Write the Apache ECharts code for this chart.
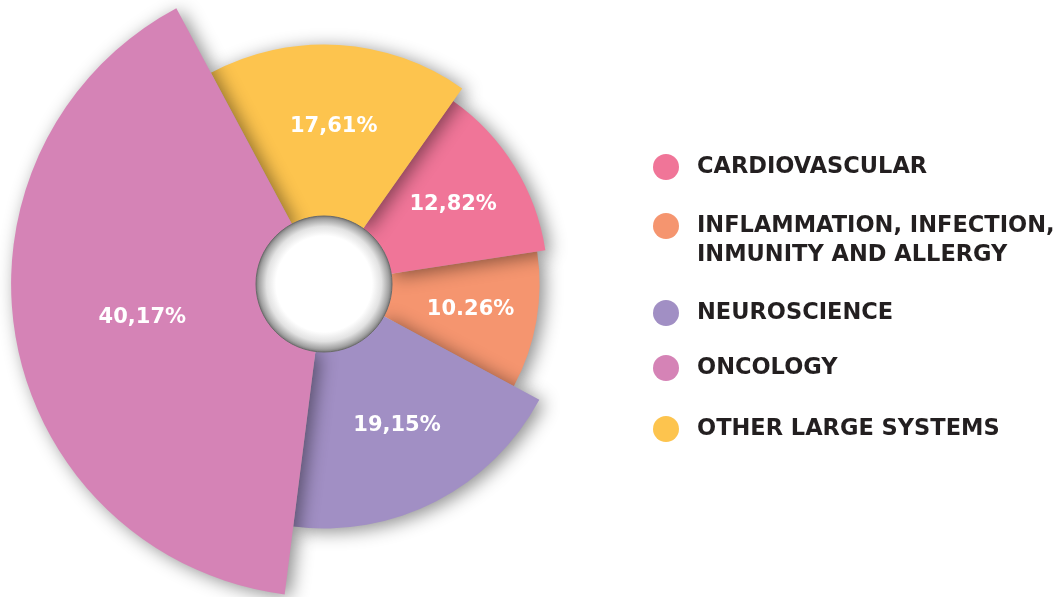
<!DOCTYPE html>
<html>
<head>
<meta charset="utf-8">
<title>Therapeutic areas</title>
<script src="https://cdn.jsdelivr.net/npm/echarts@6/dist/echarts.min.js"></script>
<style>
	html, body { margin: 0; padding: 0; background: #fff; }
	#chart { width: 1055px; height: 597px; }
</style>
</head>
<body>
<div id="chart"></div>
<script>
// 数据
var categories = [ 'CARDIOVASCULAR', 'INFLAMMATION, INFECTION, INMUNITY AND ALLERGY', 'NEUROSCIENCE', 'ONCOLOGY', 'OTHER LARGE SYSTEMS' ];
var shares = [ 12.82, 10.26, 19.15, 40.17, 17.61 ];
var shareLabels = [ '12,82%', '10.26%', '19,15%', '40,17%', '17,61%' ];

// 样式
var colors = [ '#f07598', '#f5956f', '#a18fc4', '#d583b6', '#fdc44e' ];
var drawOrder = [ 2, 1, 4, 5, 3 ]; // 阴影叠放顺序
var pieCenter = [ 324, 284 ];
var holeRadius = 68;
var fontFamily = '"DejaVu Sans", sans-serif';

// 累计角度（百分比）
var starts = [];
var acc = 0;
for ( var i = 0; i < shares.length; i++) {
	starts.push(acc);
	acc += shares[i];
}

function renderSlice(params, api) {
	var cs = params.coordSys;
	var idx = params.seriesIndex;
	var v = api.value(0), a0 = api.value(1), a1 = api.value(2);
	var p0 = api.coord([ v, a0 ]);
	var p1 = api.coord([ v, a1 ]);
	var pm = api.coord([ v, (a0 + a1) / 2 ]);
	var r = Math.sqrt(Math.pow(p0[0] - cs.cx, 2) + Math.pow(p0[1] - cs.cy, 2));
	var k = (69 + 0.37 * r) / r; // 标签离圆心的距离
	return {
		type : 'group',
		children : [ {
			type : 'sector',
			shape : {
				cx : cs.cx,
				cy : cs.cy,
				r0 : holeRadius,
				r : r,
				startAngle : Math.atan2(p0[1] - cs.cy, p0[0] - cs.cx),
				endAngle : Math.atan2(p1[1] - cs.cy, p1[0] - cs.cx),
				clockwise : true
			},
			style : {
				fill : colors[idx],
				shadowBlur : 18,
				shadowColor : 'rgba(0,0,0,0.45)',
				shadowOffsetX : 5,
				shadowOffsetY : 3
			},
			z2 : drawOrder[idx]
		}, {
			type : 'text',
			x : cs.cx + (pm[0] - cs.cx) * k,
			y : cs.cy + (pm[1] - cs.cy) * k,
			style : {
				text : shareLabels[idx],
				fill : '#ffffff',
				fontFamily : fontFamily,
				fontWeight : 'bold',
				fontSize : 21,
				align : 'center',
				verticalAlign : 'middle'
			},
			z2 : 10
		} ]
	};
}

var series = categories.map(function(name, i) {
	return {
		name : name,
		type : 'custom',
		coordinateSystem : 'polar',
		itemStyle : {
			color : colors[i]
		},
		encode : {
			radius : 0,
			angle : 1
		},
		renderItem : renderSlice,
		data : [ [ shares[i], starts[i], starts[i] + shares[i] ] ]
	};
});

// 图例每项的上下留白
var legendPaddings = [ [ 0, 0, 0, 13 ], [ 2, 0, 2, 13 ], [ 28, 0, 28, 13 ],
		[ 0, 0, 0, 13 ], [ 34, 0, 34, 13 ] ];

var chart = echarts.init(document.getElementById('chart'));
chart.setOption({
	backgroundColor : '#ffffff',
	animation : false,
	polar : {
		center : pieCenter,
		radius : [ 0, 313 ]
	},
	radiusAxis : {
		type : 'value',
		min : -56,
		max : 40.2,
		show : false
	},
	angleAxis : {
		type : 'value',
		min : 0,
		max : 100,
		startAngle : 54.8,
		clockwise : true,
		show : false
	},
	legend : {
		orient : 'vertical',
		left : 653,
		top : 153.5,
		padding : 0,
		itemGap : 0,
		itemWidth : 26,
		itemHeight : 26,
		icon : 'circle',
		selectedMode : false,
		textStyle : {
			color : '#231f20',
			fontFamily : fontFamily,
			fontWeight : 'bold',
			fontSize : 22.5,
			lineHeight : 27,
			backgroundColor : 'rgba(0,0,0,0)'
		},
		formatter : function(name) {
			// 第一行留空，让圆点对齐第一行文字
			if (name.indexOf('INFECTION, ') > -1) {
				return '\n' + name.replace('INFECTION, ', 'INFECTION,\n');
			}
			return name;
		},
		data : categories.map(function(name, i) {
			var ts = {
				padding : legendPaddings[i]
			};
			if (i === 1) {
				ts.lineHeight = 29;
			}
			return {
				name : name,
				textStyle : ts
			};
		})
	},
	graphic : [ {
		type : 'circle',
		z : 100,
		shape : {
			cx : pieCenter[0],
			cy : pieCenter[1],
			r : holeRadius
		},
		style : {
			fill : {
				type : 'radial',
				x : 0.5,
				y : 0.5,
				r : 0.5,
				colorStops : [ {
					offset : 0,
					color : '#ffffff'
				}, {
					offset : 0.7,
					color : '#ffffff'
				}, {
					offset : 0.84,
					color : '#e2e2e2'
				}, {
					offset : 0.95,
					color : '#a2a2a2'
				}, {
					offset : 1,
					color : '#727272'
				} ]
			},
			stroke : '#6a6a6a',
			lineWidth : 1
		}
	} ],
	series : series
});
</script>
</body>
</html>
